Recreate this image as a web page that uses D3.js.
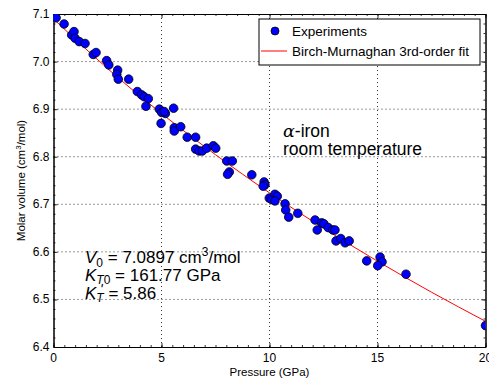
<!DOCTYPE html>
<html>
<head>
<meta charset="utf-8">
<script src="https://d3js.org/d3.v7.min.js"></script>
<style>
body{ margin:0; background:#fff; }
svg{ font-family: "Liberation Sans", Arial, sans-serif; }
</style>
</head>
<body>
<svg class="chart" width="489" height="381"></svg>
<script>
// measured points (pressure GPa, molar volume cm3/mol)
var pressure = [0.02,0.12,0.49,0.84,0.95,1.00,1.19,1.46,1.84,1.97,2.46,2.56,2.97,2.93,3.00,3.48,3.88,4.08,4.20,4.39,
  4.28,4.90,5.01,5.18,5.12,5.56,4.98,5.59,5.59,5.89,6.19,6.58,6.58,6.74,6.89,7.09,7.40,7.51,8.02,8.28,
  8.14,8.06,9.18,9.75,9.79,9.71,9.99,10.10,10.25,10.36,10.25,10.72,10.75,10.89,11.31,12.11,12.21,12.42,12.52,12.72,
  12.93,13.03,13.08,13.30,13.50,13.69,14.50,15.12,15.21,15.01,16.32,20.0];
var volume = [7.094,7.092,7.079,7.056,7.063,7.049,7.042,7.038,7.015,7.019,7.002,6.993,6.982,6.973,6.963,6.963,6.937,6.930,6.926,6.922,
  6.906,6.900,6.893,6.891,6.895,6.902,6.870,6.861,6.854,6.863,6.841,6.841,6.816,6.812,6.812,6.818,6.823,6.818,6.791,6.791,
  6.768,6.763,6.762,6.747,6.741,6.738,6.713,6.710,6.721,6.717,6.707,6.701,6.688,6.673,6.681,6.667,6.646,6.661,6.659,6.651,
  6.646,6.646,6.623,6.628,6.619,6.623,6.581,6.589,6.579,6.571,6.553,6.445];

// fit curve
var fitP = [0,2.5,5,7.5,10,12.5,15,17.5,20];
var fitV = [7.0897,6.9855,6.8909,6.8042,6.7240,6.6497,6.5804,6.5152,6.4540];

var xTicks = [0,5,10,15,20];
var yTicks = [6.4,6.5,6.6,6.7,6.8,6.9,7.0,7.1];

var margin = {top: 14, left: 53.5};
var width = 432, height = 333;

var svg = d3.select(".chart");
var chart = svg.append("g")
  .attr("transform", "translate(" + margin.left + "," + margin.top + ")");

var x = d3.scaleLinear().domain([0,20]).range([0,width]);
var y = d3.scaleLinear().domain([6.4,7.1]).range([height,0]);

svg.append("defs").append("clipPath").attr("id","clip")
  .append("rect").attr("width", width).attr("height", height);

// grid
chart.append("g").selectAll("line").data(xTicks.slice(1,-1)).enter().append("line")
  .attr("x1", d => x(d)).attr("x2", d => x(d)).attr("y1", 0).attr("y2", height)
  .attr("stroke","#000").attr("stroke-width",0.8).attr("stroke-dasharray","1,3");
chart.append("g").selectAll("line").data(yTicks.slice(1,-1)).enter().append("line")
  .attr("y1", d => y(d)).attr("y2", d => y(d)).attr("x1", 0).attr("x2", width)
  .attr("stroke","#000").attr("stroke-width",0.8).attr("stroke-dasharray","1,3");

// axes: ticks point inward on all four sides
var xMinor = d3.range(0, 20.001, 0.5);
var yMinor = d3.range(6.4, 7.1001, 0.02);

function tickAxis(axis, ticks, size){
  return axis.tickValues(ticks).tickSizeInner(-size).tickSizeOuter(0).tickFormat("");
}
chart.append("g").attr("class","ax").attr("transform","translate(0," + height + ")")
  .call(tickAxis(d3.axisBottom(x), xMinor, 2));
chart.append("g").attr("class","ax").attr("transform","translate(0," + height + ")")
  .call(tickAxis(d3.axisBottom(x), xTicks, 4));
chart.append("g").attr("class","ax")
  .call(tickAxis(d3.axisTop(x), xMinor, 2));
chart.append("g").attr("class","ax")
  .call(tickAxis(d3.axisTop(x), xTicks, 4));
chart.append("g").attr("class","ax")
  .call(tickAxis(d3.axisLeft(y), yMinor, 2));
chart.append("g").attr("class","ax")
  .call(tickAxis(d3.axisLeft(y), yTicks, 4));
chart.append("g").attr("class","ax").attr("transform","translate(" + width + ",0)")
  .call(tickAxis(d3.axisRight(y), yMinor, 2));
chart.append("g").attr("class","ax").attr("transform","translate(" + width + ",0)")
  .call(tickAxis(d3.axisRight(y), yTicks, 4));

chart.selectAll(".ax text").remove();
chart.selectAll(".ax line").attr("stroke","#000").attr("stroke-width",0.8);
chart.selectAll(".ax .domain").attr("stroke","#000").attr("stroke-width",1);

// tick labels
chart.append("g").selectAll("text").data(xTicks).enter().append("text")
  .attr("x", d => x(d)).attr("y", height + 15).attr("text-anchor","middle")
  .attr("font-size",12).text(d3.format("d"));
chart.append("g").selectAll("text").data(yTicks).enter().append("text")
  .attr("x", -4).attr("y", d => y(d) + 4).attr("text-anchor","end")
  .attr("font-size",12).text(d3.format(".1f"));

// fit line
var fitData = fitP.map((p,i) => [p, fitV[i]]);
chart.append("path").datum(fitData)
  .attr("clip-path","url(#clip)")
  .attr("fill","none").attr("stroke","#ff0000").attr("stroke-width",1)
  .attr("d", d3.line().x(d => x(d[0])).y(d => y(d[1])).curve(d3.curveNatural));

// experimental points
chart.append("g").attr("clip-path","url(#clip)").selectAll("circle")
  .data(pressure.map((p,i) => [p, volume[i]])).enter().append("circle")
  .attr("cx", d => x(d[0])).attr("cy", d => y(d[1])).attr("r", 4.3)
  .attr("fill","#0000ff").attr("stroke","#000").attr("stroke-width",0.8);

// axis labels
svg.append("text").attr("x", margin.left + width/2).attr("y", 376)
  .attr("text-anchor","middle").attr("font-size",11.5).text("Pressure (GPa)");
var yl = svg.append("text")
  .attr("transform","translate(25," + (margin.top + height/2) + ") rotate(-90)")
  .attr("text-anchor","middle").attr("font-size",11.5);
yl.append("tspan").text("Molar volume (cm");
yl.append("tspan").attr("font-size",8).attr("dy",-4).text("3");
yl.append("tspan").attr("dy",4).text("/mol)");

// legend
var lg = svg.append("g").attr("transform","translate(259,19)");
lg.append("rect").attr("width",221).attr("height",46)
  .attr("fill","#fff").attr("stroke","#000").attr("stroke-width",1);
lg.append("circle").attr("cx",16).attr("cy",12).attr("r",4)
  .attr("fill","#0000ff").attr("stroke","#000").attr("stroke-width",0.8);
lg.append("text").attr("x",33).attr("y",17).attr("font-size",13.5).text("Experiments");
lg.append("line").attr("x1",2).attr("x2",28).attr("y1",32).attr("y2",32)
  .attr("stroke","#ff0000").attr("stroke-width",1);
lg.append("text").attr("x",33).attr("y",37).attr("font-size",13.5).text("Birch-Murnaghan 3rd-order fit");

// annotations
var a1 = svg.append("text").attr("x",283).attr("y",137).attr("font-size",17.5);
a1.append("tspan").attr("font-family",'"DejaVu Serif", serif').attr("font-style","italic").text("α");
a1.append("tspan").text("-iron");
svg.append("text").attr("x",283).attr("y",155).attr("font-size",17.5).text("room temperature");

var t1 = svg.append("text").attr("x",85).attr("y",263).attr("font-size",17);
t1.append("tspan").attr("font-style","italic").text("V");
t1.append("tspan").attr("font-size",12).attr("dy",4).text("0");
t1.append("tspan").attr("dy",-4).text(" = 7.0897 cm");
t1.append("tspan").attr("font-size",12).attr("dy",-7).text("3");
t1.append("tspan").attr("dy",7).text("/mol");

var t2 = svg.append("text").attr("x",85).attr("y",281).attr("font-size",17);
t2.append("tspan").attr("font-style","italic").text("K");
t2.append("tspan").attr("font-size",12).attr("dy",3).attr("font-style","italic").text("T");
t2.append("tspan").attr("font-size",12).text("0");
t2.append("tspan").attr("dy",-3).text(" = 161.77 GPa");

var t3 = svg.append("text").attr("x",85).attr("y",299).attr("font-size",17);
t3.append("tspan").attr("font-style","italic").text("K");
t3.append("tspan").attr("font-size",12).attr("dy",3).attr("font-style","italic").text("T");
t3.append("tspan").attr("dy",-3).text(" = 5.86");
svg.append("text").attr("x",100).attr("y",294).attr("font-size",14)
  .attr("font-style","italic").attr("fill","#000").text("'");
</script>
</body>
</html>
